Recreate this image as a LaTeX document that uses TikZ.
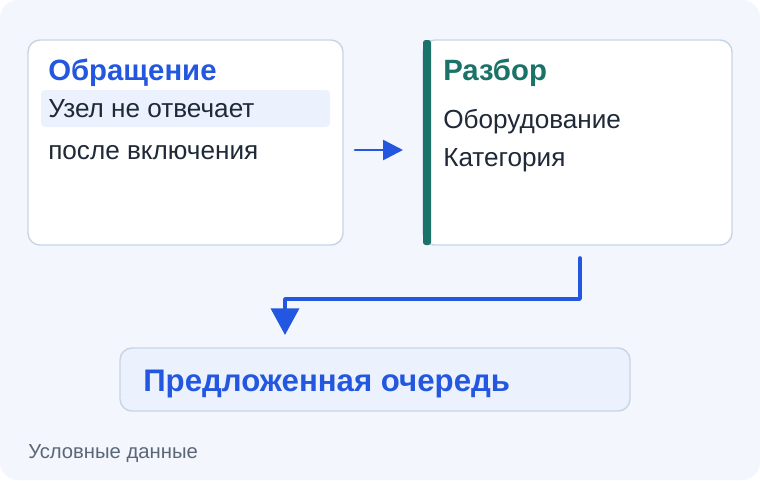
\documentclass[tikz,border=0pt]{standalone}
\usepackage{fontspec}
\setmainfont{Liberation Sans}
\usetikzlibrary{arrows.meta,positioning}

\definecolor{pagebg}{HTML}{F3F6FD}
\definecolor{cardline}{HTML}{C9D5E6}
\definecolor{softblue}{HTML}{EBF2FE}
\definecolor{flowblue}{HTML}{2457DF}
\definecolor{teal}{HTML}{1B7268}
\definecolor{ink}{HTML}{1F2937}
\definecolor{muted}{HTML}{5B6676}

\begin{document}
\begin{tikzpicture}[x=0.75pt,y=-0.75pt,
	card/.style={draw=cardline,line width=1.1pt,fill=white,rounded corners=9pt,
		inner sep=0pt,outer sep=0pt,anchor=north west},
	title/.style={anchor=base west,inner sep=0pt,font=\fontsize{22pt}{26pt}\selectfont\bfseries},
	body/.style={anchor=base west,inner sep=0pt,text=ink,font=\fontsize{19.6pt}{23pt}\selectfont},
	flow/.style={draw=flowblue,line cap=round,line join=round}]

	\useasboundingbox (0,0) rectangle (760,480);
	\fill[pagebg,rounded corners=13.5pt] (0,0) rectangle (760,480);

	% first card
	\node[card,minimum width=315*0.75pt,minimum height=205*0.75pt] (req) at (28,40) {};
	\fill[softblue,rounded corners=3pt] (41,90) rectangle (330,127);
	\node[title,text=flowblue] (req_t) at (48,80) {Обращение};
	\node[body] (req_a) at (48,117) {Узел не отвечает};
	\node[body] (req_b) at (48,159) {после включения};

	% second card
	\node[card,minimum width=309*0.75pt,minimum height=205*0.75pt] (an) at (423,40) {};
	\fill[teal,rounded corners=2pt] (423,40) rectangle (431,245);
	\node[title,text=teal] (an_t) at (443,80) {Разбор};
	\node[body] (an_a) at (443,128) {Оборудование};
	\node[body] (an_b) at (443,166) {Категория};

	% result
	\node[card,fill=softblue,minimum width=510*0.75pt,minimum height=63*0.75pt] (queue) at (120,348) {};
	\node[anchor=base west,inner sep=0pt,text=flowblue,
		font=\fontsize{23.4pt}{27pt}\selectfont\bfseries] (queue_t) at (143,391) {Предложенная очередь};

	\node[anchor=base west,inner sep=0pt,text=muted,
		font=\fontsize{15.2pt}{18pt}\selectfont] (note) at (28,458) {Условные данные};

	\draw[flow,line width=2pt,-{Triangle[length=15pt,width=15pt]}]
		([shift={(12,7.5)}]req.east) -- ([shift={(-20,7.5)}]an.west);

	\draw[flow,line width=2.7pt,-{Triangle[length=20pt,width=21pt]}]
		([shift={(2.5,13)}]an.south) -- ++(0,41) -| ([shift={(-90,-13)}]queue.north);

\end{tikzpicture}
\end{document}
